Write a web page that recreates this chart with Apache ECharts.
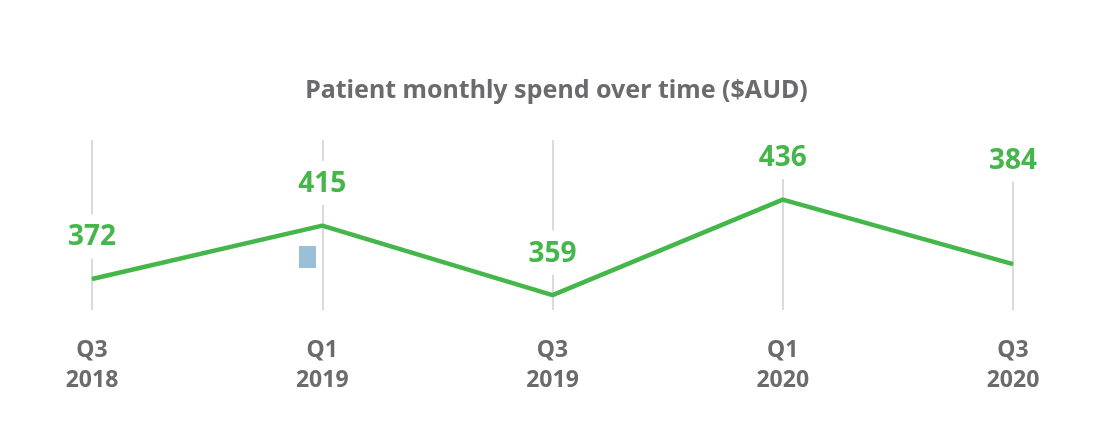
<!DOCTYPE html>
<html>
<head>
<meta charset="utf-8">
<script src="https://cdn.jsdelivr.net/npm/echarts@6/dist/echarts.min.js"></script>
<style>
  html, body { margin: 0; padding: 0; background: #fff; }
  #chart { width: 1113px; height: 444px; }
</style>
</head>
<body>
<div id="chart"></div>
<script>
const quarters = ["Q3\n2018", "Q1\n2019", "Q3\n2019", "Q1\n2020", "Q3\n2020"];
const spend = [372, 415, 359, 436, 384];

const green = "#45b649";
const grey = "#6b6b6d";

const chart = echarts.init(document.querySelector("#chart"));

chart.setOption({
  animation: false,
  title: {
    text: "Patient monthly spend over time ($AUD)",
    left: "center",
    top: 73,
    textStyle: {
      fontFamily: "Noto Sans",
      fontSize: 25,
      fontWeight: "bold",
      color: grey
    }
  },
  grid: { left: 92, right: 100, top: 140, bottom: 134 },
  xAxis: {
    type: "category",
    data: quarters,
    boundaryGap: false,
    axisLine: { show: false },
    axisTick: { show: false },
    splitLine: { show: true, lineStyle: { color: "#cfcfcf", width: 1.5 } },
    axisLabel: {
      margin: 25,
      fontFamily: "Noto Sans",
      fontSize: 23,
      fontWeight: "bold",
      lineHeight: 30,
      color: grey
    }
  },
  yAxis: {
    type: "value",
    min: 347,
    max: 484,
    show: false,
    splitLine: { show: false }
  },
  graphic: [{
    type: "rect",
    shape: { x: 299, y: 246, width: 17, height: 22 },
    style: { fill: "#9bbfd9" }
  }],
  series: [{
    type: "line",
    data: spend.map((v, i) => ({
      value: v,
      // the last label sits up at the top of its gridline
      label: i === spend.length - 1 ? { offset: [0, -62] } : {}
    })),
    symbol: "circle",
    symbolSize: 1,
    itemStyle: { color: green },
    lineStyle: { color: green, width: 4.5 },
    label: {
      show: true,
      position: "top",
      distance: 20,
      fontFamily: "Noto Sans",
      fontSize: 28,
      fontWeight: "bold",
      color: green,
      backgroundColor: "#fff",
      padding: [9, 6, 7, 6]
    }
  }]
});
</script>
</body>
</html>
